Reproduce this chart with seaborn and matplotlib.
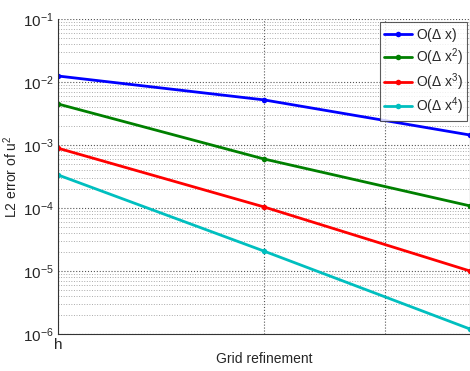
import numpy as np
import pandas as pd
import seaborn as sns
import matplotlib.pyplot as plt
from matplotlib.ticker import FixedLocator, FixedFormatter, LogLocator

sns.set_style("white")
plt.rcParams['font.family'] = ['Liberation Sans', 'DejaVu Sans']
plt.rcParams['mathtext.fontset'] = 'custom'
plt.rcParams['mathtext.rm'] = 'Liberation Sans'
plt.rcParams['mathtext.it'] = 'Liberation Sans'
plt.rcParams['mathtext.default'] = 'regular'

# grid refinement levels: h, h/2, h/4
refine = [1, 2, 4]
err_o1 = [1.245e-2, 5.2e-3, 1.44e-3]
err_o2 = [4.48e-3, 6.0e-4, 1.08e-4]
err_o3 = [8.9e-4, 1.04e-4, 1.0e-5]
err_o4 = [3.35e-4, 2.07e-5, 1.2e-6]
labels = [r'O($\Delta$ x)', r'O($\Delta$ x$^2$)', r'O($\Delta$ x$^3$)', r'O($\Delta$ x$^4$)']
colors = ['#0000ff', '#008000', '#ff0000', '#00bfbf']

df = pd.concat([
    pd.DataFrame({'refine': refine, 'err': e, 'order': lab})
    for e, lab in zip([err_o1, err_o2, err_o3, err_o4], labels)
])

fig = plt.figure(figsize=(4.7, 3.71), dpi=100)
ax = fig.add_axes([0.1234, 0.0997, 0.8766, 0.8491])

sns.lineplot(data=df, x='refine', y='err', hue='order', palette=colors,
             marker='o', markersize=4, markeredgewidth=0, linewidth=2,
             ax=ax)

ax.set_xscale('log')
ax.set_yscale('log')
ax.set_xlim(1, 4)
ax.set_ylim(1e-6, 1e-1)

ax.xaxis.set_major_locator(FixedLocator([1, 2, 3]))
ax.xaxis.set_major_formatter(FixedFormatter(['h', '', '']))
ax.xaxis.set_minor_locator(FixedLocator([]))
ax.yaxis.set_major_locator(LogLocator(base=10, numticks=10))
ax.yaxis.set_minor_locator(LogLocator(base=10, subs=np.arange(2, 10), numticks=20))

ax.grid(True, which='major', linestyle=':', color='#555555', linewidth=0.8)
ax.grid(True, which='minor', axis='y', linestyle=':', color='#aaaaaa', linewidth=0.7)
ax.tick_params(which='both', direction='in', labelsize=11, color='#333333', pad=3)
ax.tick_params(which='minor', length=2)
for side in ['left', 'bottom']:
    ax.spines[side].set_color('#333333')
ax.spines['top'].set_visible(False)

ax.set_xlabel('Grid refinement', fontsize=10, labelpad=0)
ax.set_ylabel('L2 error of u$^2$', fontsize=10, labelpad=2)

leg = ax.legend(loc='upper right', fontsize=10, frameon=True, fancybox=False,
                edgecolor='#333333', borderaxespad=0.2, handlelength=2.0,
                handletextpad=0.3, labelspacing=0.2, borderpad=0.3)
leg.get_frame().set_linewidth(0.8)

fig.savefig('out.png', dpi=100)
